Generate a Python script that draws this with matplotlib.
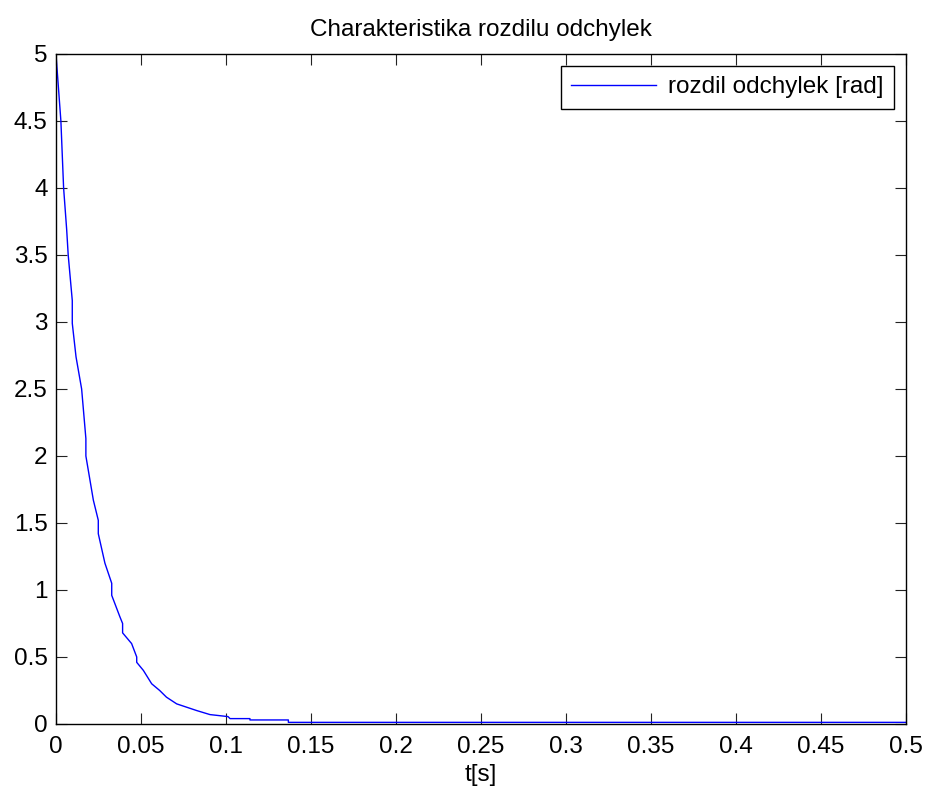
import matplotlib

matplotlib.use("Agg")
import matplotlib.pyplot as plt  # noqa: E402

# difference of deviations, sampled response (t in s, value in rad)
t = [0.0, 0.0029, 0.0045, 0.0063, 0.0072, 0.0096, 0.0096, 0.0118, 0.0151,
     0.0176, 0.0176, 0.0220, 0.0249, 0.0249, 0.0288, 0.0328, 0.0328, 0.0376,
     0.0392, 0.0392, 0.0445, 0.0475, 0.0475, 0.0514, 0.0563, 0.0610, 0.0650,
     0.0710, 0.0828, 0.0906, 0.1012, 0.1024, 0.1141, 0.1141, 0.1367, 0.1367,
     0.5]
rozdil = [5.0, 4.5, 4.0, 3.69, 3.5, 3.16, 2.99, 2.74, 2.5,
          2.13, 2.0, 1.67, 1.52, 1.42, 1.2, 1.05, 0.96, 0.80,
          0.75, 0.68, 0.60, 0.50, 0.46, 0.40, 0.30, 0.25, 0.20,
          0.15, 0.10, 0.07, 0.055, 0.04, 0.04, 0.03, 0.03, 0.012,
          0.012]

xticks = [0, 0.05, 0.1, 0.15, 0.2, 0.25, 0.3, 0.35, 0.4, 0.45, 0.5]
xticklabels = ["0", "0.05", "0.1", "0.15", "0.2", "0.25", "0.3", "0.35",
               "0.4", "0.45", "0.5"]
yticks = [0, 0.5, 1, 1.5, 2, 2.5, 3, 3.5, 4, 4.5, 5]
yticklabels = ["0", "0.5", "1", "1.5", "2", "2.5", "3", "3.5", "4", "4.5", "5"]

plt.rcParams["font.family"] = ["Liberation Sans", "DejaVu Sans"]
FS = 17.5

fig = plt.figure(figsize=(9.28, 7.94), dpi=100)
ax = fig.add_axes([0.0603, 0.0882, 0.916, 0.8438])
ax.plot(t, rozdil, color="#0000ff", lw=1.0, label="rozdil odchylek [rad]")

ax.set_xlim(0, 0.5)
ax.set_ylim(0, 5)
ax.set_xticks(xticks)
ax.set_xticklabels(xticklabels)
ax.set_yticks(yticks)
ax.set_yticklabels(yticklabels)
ax.tick_params(direction="in", length=8, width=0.8, top=True, right=True,
               labelsize=FS, color="#222222")
ax.tick_params(axis="x", pad=9)
ax.tick_params(axis="y", pad=6)
for s in ax.spines.values():
    s.set_linewidth(1.0)
    s.set_color("black")

ax.set_xlabel("t[s]", fontsize=FS, labelpad=4)
ax.set_title("Charakteristika rozdilu odchylek", fontsize=FS, pad=13)

leg = ax.legend(loc="upper right", fontsize=FS, fancybox=False,
                framealpha=1, edgecolor="black", handlelength=3.5,
                borderaxespad=0.5, borderpad=0.42, handletextpad=0.5)
leg.get_frame().set_linewidth(1.0)

fig.savefig("out.png", dpi=100)
plt.close(fig)
